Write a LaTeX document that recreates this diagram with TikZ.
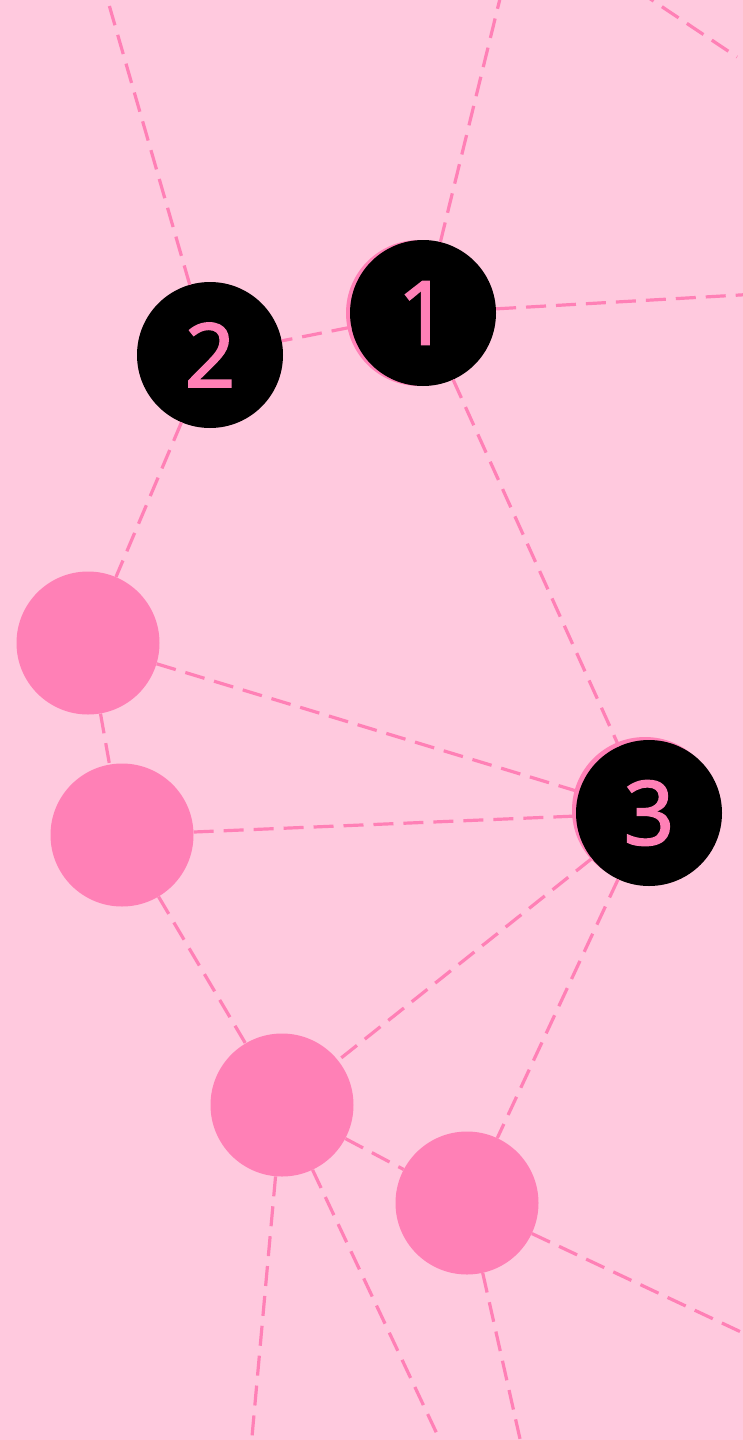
\documentclass[tikz,border=0pt]{standalone}
\usepackage{fontspec}
\setmainfont{Noto Sans}
\newfontfamily\digitfont[FakeBold=1.6]{Noto Sans}
\usetikzlibrary{positioning}
\definecolor{petal}{HTML}{FF80B6}
\definecolor{blush}{HTML}{FFC9DE}
\tikzset{hub/.style={circle,fill=black,text=petal,minimum size=146pt,inner sep=0pt,font=\digitfont\fontsize{89}{89}\selectfont}, dot/.style={circle,fill=petal,minimum size=143pt,inner sep=0pt}, link/.style={draw=petal,line width=3.2pt,dash pattern=on 20pt off 10pt}}
\begin{document}
\begin{tikzpicture}[x=1pt,y=-1pt]
\fill[blush](0,0)rectangle(743,1440);\useasboundingbox(0,0)rectangle(743,1440);
\node[dot,minimum size=146pt](n1back)at(419,313){};\node[dot,minimum size=146pt](n3back)at(645,810){};
\node[hub](n1)at(423,313){1};\node[hub](n2)at(210,355){2};\node[hub](n3)at(649,813){3};
\node[dot](a)at(88,643){};\node[dot](b)at(122,835){};\node[dot](c)at(282,1105){};\node[dot](d)at(467,1203){};
\coordinate(o1)at(99,-30);\coordinate(o2)at(507,-30);\coordinate(o3)at(775,293);\coordinate(o4)at(249,1470);\coordinate(o5)at(454,1470);\coordinate(o6)at(527,1470);\coordinate(o7)at(775,1348);\coordinate(o8)at(637,-10);\coordinate(o9)at(737,57);
\foreach \x/\y in {n2/o1,n1/o2,n1/o3,n1/n2,n1/n3,n2/a,a/n3,a/b,b/n3,b/c,n3/c,n3/d,c/d,c/o4,c/o5,d/o6,d/o7,o8/o9}{\draw[link](\x)--(\y);}
\end{tikzpicture}
\end{document}
